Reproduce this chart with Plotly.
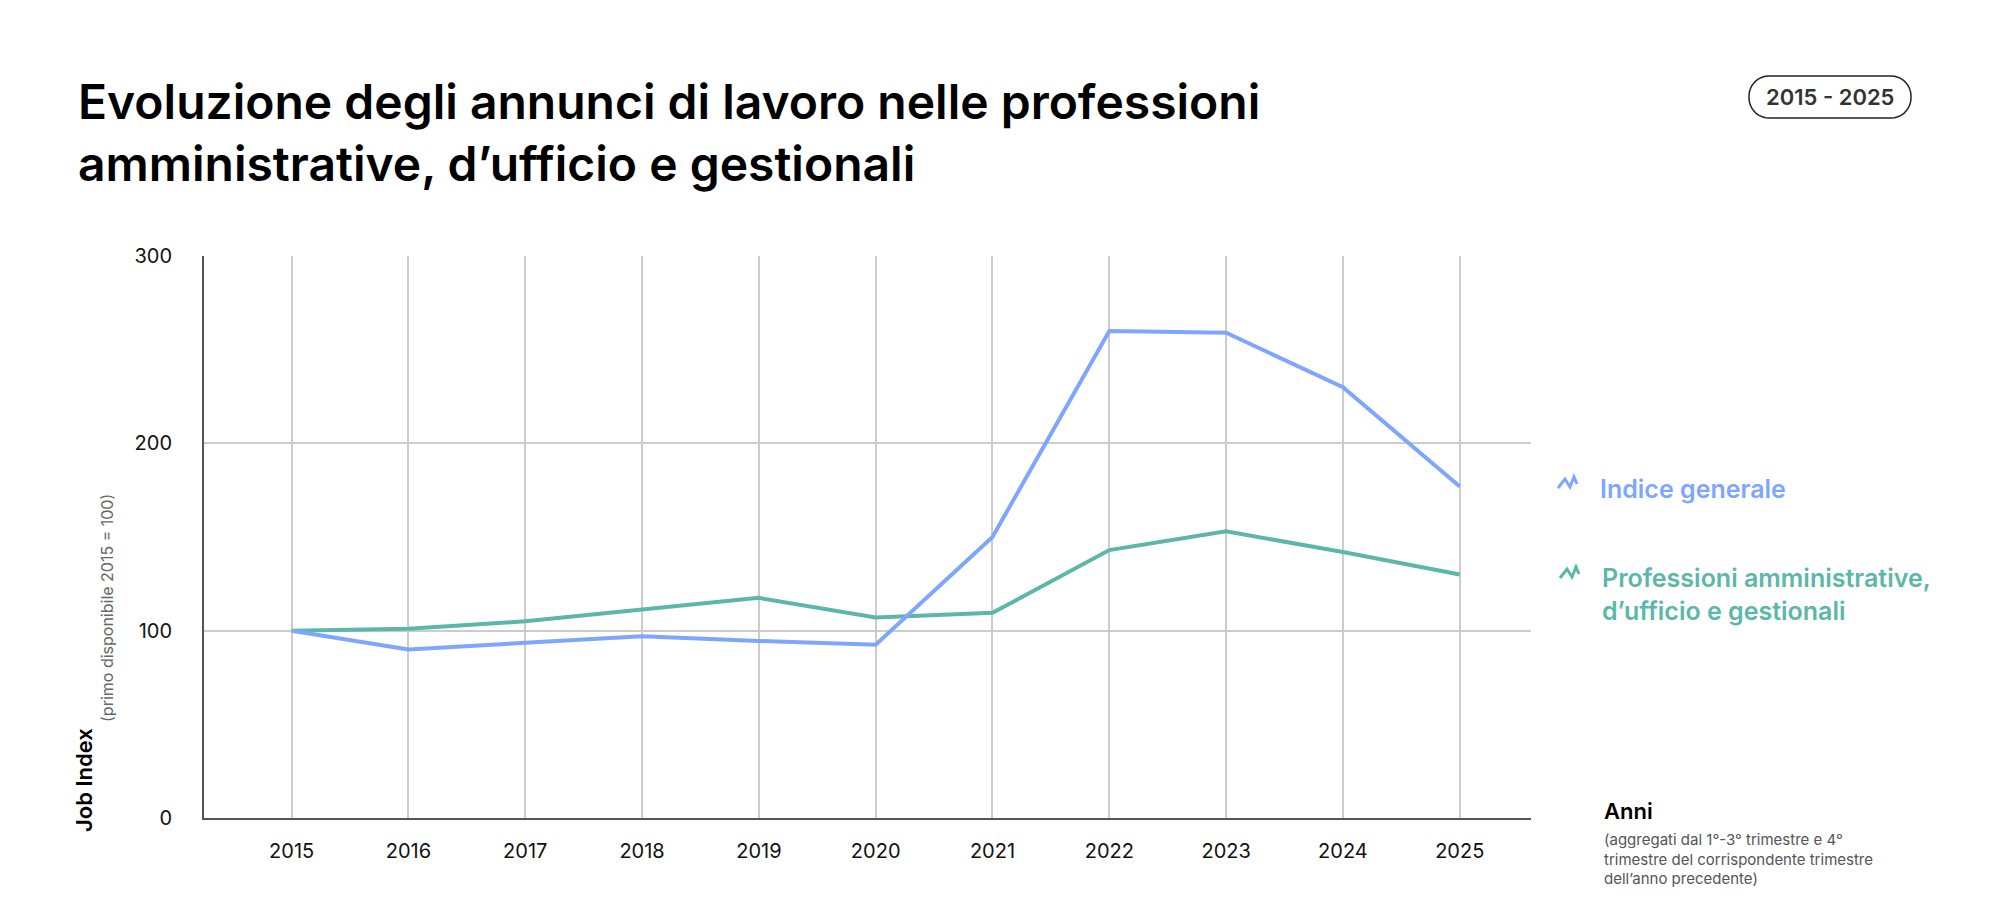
import plotly.graph_objects as go

years = [2015, 2016, 2017, 2018, 2019, 2020, 2021, 2022, 2023, 2024, 2025]
indice_generale = [100, 90, 93.5, 97, 94.5, 92.5, 150, 260, 259, 230, 177]
professioni = [100, 101, 105, 111, 117.5, 107, 109.5, 143, 153, 142, 130]
BLUE = "#7FA6FF"
TEAL = "#5BB8A8"
FONT = "Inter"

L, R, T, B = 196, 1523, 248, 810
def px(x): return (x - L) / (R - L)
def py(y): return (B - y) / (B - T)

fig = go.Figure()
fig.add_trace(go.Scatter(x=years, y=professioni, mode="lines", line=dict(color=TEAL, width=4), hoverinfo="skip"))
fig.add_trace(go.Scatter(x=years, y=indice_generale, mode="lines", line=dict(color=BLUE, width=4), hoverinfo="skip"))

def icon(x0, y0, color):
    pts = [(0, 10), (7, 1), (12, 9), (16, -1), (19, 6)]
    path = "M " + " L ".join(f"{px(x0+a):.5f},{py(y0+b):.5f}" for a, b in pts)
    return dict(type="path", path=path, xref="paper", yref="paper",
                line=dict(color=color, width=3))

def rounded(x0, y0, x1, y1, r):
    p = lambda x, y: f"{px(x):.5f},{py(y):.5f}"
    pts = []
    import math
    for cx, cy, a0 in [(x1 - r, y0 + r, -90), (x1 - r, y1 - r, 0), (x0 + r, y1 - r, 90), (x0 + r, y0 + r, 180)]:
        for k in range(0, 10):
            a = math.radians(a0 + k * 10)
            pts.append(p(cx + r * math.cos(a), cy + r * math.sin(a)))
    return "M " + " L ".join(pts) + " Z"

shapes = [icon(1550, 470, BLUE), icon(1552, 560, TEAL),
          dict(type="path", xref="paper", yref="paper", path=rounded(1741, 68, 1903, 110, 20),
               line=dict(color="#222", width=1.5))]

ann = [
    dict(x=px(68), y=py(62), text="Evoluzione degli annunci di lavoro nelle professioni<br>amministrative, d’ufficio e gestionali",
         xanchor="left", yanchor="top", font=dict(size=48, color="#000", family=FONT, weight=600), align="left"),
    dict(x=px(1822), y=py(89), text="2015 - 2025", xanchor="center", yanchor="middle",
         font=dict(size=22, color="#333", family=FONT, weight=600)),
    dict(x=px(1590), y=py(481), text="Indice generale", xanchor="left", yanchor="middle",
         font=dict(size=25, color=BLUE, family=FONT, weight=600)),
    dict(x=px(1592), y=py(586), text="Professioni amministrative,<br>d’ufficio e gestionali", xanchor="left", yanchor="middle",
         font=dict(size=25, color=TEAL, family=FONT, weight=600), align="left"),
    dict(x=px(1594), y=py(803), text="Anni", xanchor="left", yanchor="middle",
         font=dict(size=22, color="#000", family=FONT, weight=600)),
    dict(x=px(1594), y=py(851), text="(aggregati dal 1°-3° trimestre e 4°<br>trimestre del corrispondente trimestre<br>dell’anno precedente)",
         xanchor="left", yanchor="middle", align="left", font=dict(size=15, color="#555", family=FONT)),
    dict(x=px(76), y=py(826), text="Job Index", textangle=-90, xanchor="center", yanchor="bottom",
         font=dict(size=22, color="#000", family=FONT, weight=600)),
    dict(x=px(99), y=py(600), text="(primo disponibile 2015 = 100)", textangle=-90, xanchor="center", yanchor="middle",
         font=dict(size=16, color="#666", family=FONT)),
]
for a in ann:
    a.update(xref="paper", yref="paper", showarrow=False)

fig.update_layout(
    width=2000, height=921, margin=dict(l=L, r=2000 - R, t=T, b=921 - B),
    paper_bgcolor="white", plot_bgcolor="white", showlegend=False,
    shapes=shapes, annotations=ann,
    xaxis=dict(range=[2014.25, 2025.61], tickvals=years, showgrid=True, gridcolor="#cccccc", gridwidth=1.5,
               zeroline=False, showline=True, linecolor="#555", linewidth=2, ticks="",
               tickfont=dict(size=20, color="#111", family=FONT), ticklabelstandoff=14),
    yaxis=dict(range=[0, 300], tickvals=[0, 100, 200, 300], showgrid=True, gridcolor="#cccccc", gridwidth=1.5,
               zeroline=False, showline=True, linecolor="#555", linewidth=2, ticks="",
               tickfont=dict(size=20, color="#111", family=FONT), ticklabelstandoff=26),
)
fig.write_html("out.html")
